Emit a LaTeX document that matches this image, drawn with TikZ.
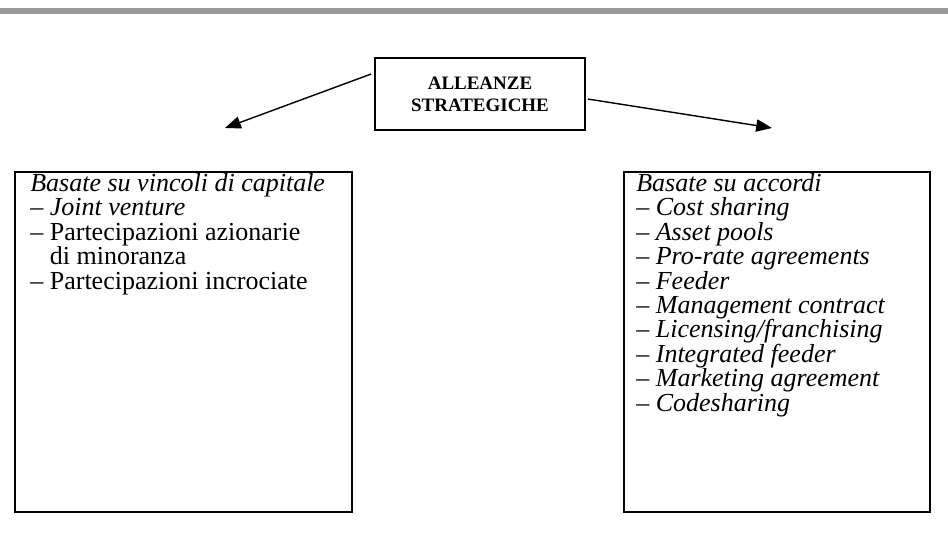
\documentclass[tikz,border=0pt]{standalone}
\usepackage{fontspec}
\setmainfont{Liberation Serif}
\usetikzlibrary{arrows.meta, positioning, calc}

\begin{document}
\begin{tikzpicture}[
  x=0.02cm, y=-0.02cm,
  bordo/.style={draw=black, line width=1.1pt},
  freccia/.style={line width=0.8pt, -{Triangle[length=9pt,width=7pt]}},
  riquadro/.style={bordo, inner sep=0pt},
  voci/.style={align=left, inner sep=0pt, font=\fontsize{14.8}{13.9}\selectfont}
]
\useasboundingbox (0,0) rectangle (948,533);

% ---- fascia grigia in alto
\fill[black!40] (0,8) rectangle (948,14);

% ---- riquadro centrale
\node[riquadro, minimum width=4.2cm, minimum height=1.44cm, align=center,
      font=\fontsize{10.8}{12.5}\selectfont\bfseries]
     (alleanze) at (480,94) {ALLEANZE\\STRATEGICHE};

% ---- riquadri inferiori (vuoti, il testo va sopra)
\node[riquadro, minimum width=6.74cm, minimum height=6.8cm] (capitale) at (183.5,342) {};
\node[riquadro, minimum width=6.12cm, minimum height=6.8cm] (accordi)  at (777,342) {};

\node[voci, anchor=north west] (vincoli) at (30,173)
     {\textit{Basate su vincoli di capitale}\\
      – \textit{Joint venture}\\
      – Partecipazioni azionarie\\
      \phantom{– }di minoranza\\
      – Partecipazioni incrociate};

\node[voci, anchor=north west, font=\fontsize{14.8}{13.9}\selectfont\itshape]
     (contratti) at (636,173)
     {Basate su accordi\\
      – Cost sharing\\
      – Asset pools\\
      – Pro-rate agreements\\
      – Feeder\\
      – Management contract\\
      – Licensing/franchising\\
      – Integrated feeder\\
      – Marketing agreement\\
      – Codesharing};

% ---- frecce verso i due tipi di alleanza
\coordinate (puntasx) at (225,128);
\coordinate (puntadx) at (772,128);
\draw[freccia] ([shift={(-3,17)}]alleanze.north west) -- (puntasx);
\draw[freccia] ([shift={(2,42)}]alleanze.north east) -- (puntadx);

\end{tikzpicture}
\end{document}
